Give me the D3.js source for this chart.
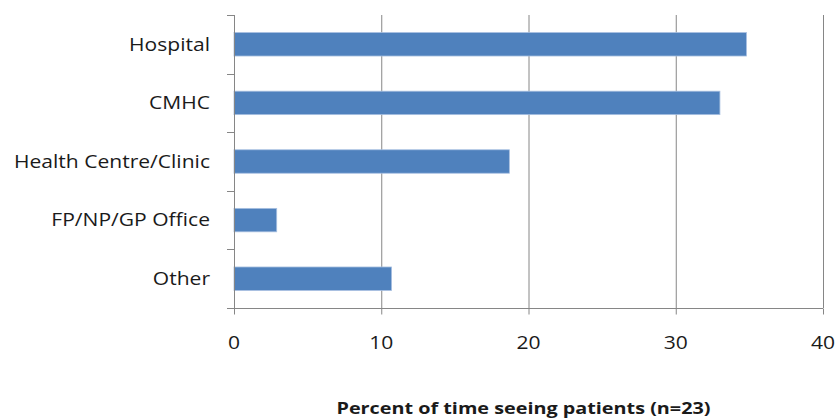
<!DOCTYPE html>
<html>
<head>
<meta charset="utf-8">
<script src="https://cdn.jsdelivr.net/npm/d3@7"></script>
<style>
  body { margin: 0; background: #fff; }
  svg { display: block; }
</style>
</head>
<body>
<svg id="chart" width="835" height="419"></svg>
<script>
// chart data
var categories = ["Hospital", "CMHC", "Health Centre/Clinic", "FP/NP/GP Office", "Other"];
var values = [34.8, 33.0, 18.7, 2.9, 10.7];
var xTicks = [0, 10, 20, 30, 40];
var xTitle = "Percent of time seeing patients (n=23)";

var margin = {left: 234, right: 12, top: 15, bottom: 111};
var width = 835, height = 419;
var svg = d3.select("#chart");
var fontFam = "'Open Sans', 'DejaVu Sans', sans-serif";
var gridColor = "#868686";
var textColor = "#1a1a1a";
var sx = 1.17; // the reference text is a bit wider than Open Sans

var x = d3.scaleLinear().domain([0, 40]).range([margin.left, width - margin.right]);
var y = d3.scaleBand().domain(categories)
    .range([margin.top, height - margin.bottom])
    .paddingInner(0.6).paddingOuter(0.3);

// vertical gridlines
svg.append("g")
    .selectAll("line")
    .data(xTicks.slice(1))
    .join("line")
    .attr("x1", d => x(d) + 0.5)
    .attr("x2", d => x(d) + 0.5)
    .attr("y1", y.range()[0])
    .attr("y2", y.range()[1])
    .attr("stroke", gridColor)
    .attr("stroke-width", 1);

// bars
svg.append("g")
    .selectAll("rect")
    .data(categories)
    .join("rect")
    .attr("x", x(0))
    .attr("y", d => y(d))
    .attr("width", (d, i) => x(values[i]) - x(0))
    .attr("height", y.bandwidth())
    .attr("fill", "#4F81BD")
    .attr("stroke", "#a7bfe0")
    .attr("stroke-width", 0.8);

// y axis (ticks on band boundaries)
var yAxisG = svg.append("g");
var step = y.step();
var bounds = d3.range(categories.length + 1).map(i => y.range()[0] + i * step);
yAxisG.append("line")
    .attr("x1", x(0) + 0.5).attr("x2", x(0) + 0.5)
    .attr("y1", y.range()[0]).attr("y2", y.range()[1])
    .attr("stroke", gridColor);
yAxisG.selectAll("line.tick")
    .data(bounds)
    .join("line")
    .attr("class", "tick")
    .attr("x1", x(0) - 7).attr("x2", x(0))
    .attr("y1", d => Math.round(d) + 0.5).attr("y2", d => Math.round(d) + 0.5)
    .attr("stroke", gridColor);
yAxisG.selectAll("text")
    .data(categories)
    .join("text")
    .attr("transform", d => "translate(210," + (y(d) + y.bandwidth() / 2) + ") scale(" + sx + ",1)")
    .attr("dy", "0.35em")
    .attr("text-anchor", "end")
    .style("font-family", fontFam)
    .style("font-size", "18px")
    .attr("fill", textColor)
    .text(d => d);

// x axis
var axisY = Math.round(y.range()[1]) + 0.5;
var xAxis = d3.axisBottom(x).tickValues(xTicks).tickSize(6).tickFormat("");
var xAxisG = svg.append("g")
    .attr("transform", "translate(0," + axisY + ")")
    .call(xAxis);
xAxisG.select(".domain").remove();
xAxisG.append("line")
    .attr("x1", x(0) - 7).attr("x2", x(40))
    .attr("stroke", gridColor);
xAxisG.selectAll(".tick line").attr("stroke", gridColor);
xAxisG.selectAll("text.lbl")
    .data(xTicks)
    .join("text")
    .attr("class", "lbl")
    .attr("transform", d => "translate(" + x(d) + ",40) scale(" + sx + ",1)")
    .attr("text-anchor", "middle")
    .style("font-family", fontFam)
    .style("font-size", "18px")
    .attr("fill", textColor)
    .text(d => d);

// axis title
svg.append("text")
    .attr("transform", "translate(" + ((x(0) + x(40)) / 2 - 5) + ",414) scale(1.2,1)")
    .attr("text-anchor", "middle")
    .style("font-family", fontFam)
    .style("font-size", "16.5px")
    .style("font-weight", "bold")
    .attr("fill", textColor)
    .text(xTitle);
</script>
</body>
</html>
